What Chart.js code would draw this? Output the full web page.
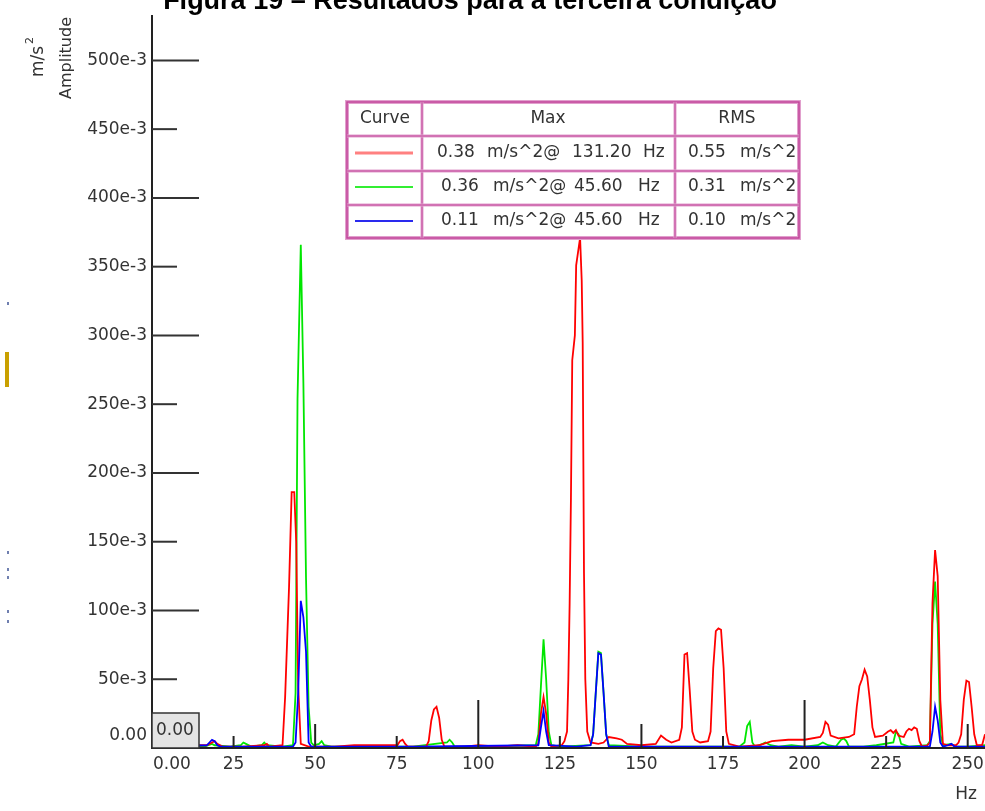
<!DOCTYPE html>
<html>
<head>
<meta charset="utf-8">
<script src="https://cdn.jsdelivr.net/npm/chart.js@4/dist/chart.umd.min.js"></script>
<style>
  body { margin: 0; background: #fff; }
  #wrap { position: relative; width: 985px; height: 811px; }
</style>
</head>
<body>
<div id="wrap"><canvas id="myChart"></canvas></div>
<script>
// spectrum points: [Hz, m/s^2]
const redPts = [
  [0,0.001],[8,0.001],[14,0.002],[16.8,0.002],[18.4,0.004],[19.2,0.005],[20.0,0.003],[21.6,0.001],
  [28,0.001],[34.4,0.002],[35.2,0.003],[36.0,0.001],[40.0,0.002],[40.8,0.037],[42.0,0.117],[42.8,0.186],
  [43.6,0.186],[44.2,0.150],[44.8,0.045],[45.6,0.003],[48,0.001],[56,0.001],[62,0.002],[70,0.002],[75.2,0.002],
  [76.0,0.005],[76.8,0.006],[77.6,0.003],[78.4,0.001],[84.0,0.001],[84.8,0.005],[85.6,0.020],[86.4,0.028],
  [87.2,0.030],[88.0,0.022],[88.8,0.006],[89.6,0.001],[96,0.001],[100,0.002],[106,0.001],[112,0.002],
  [117.6,0.001],[118.4,0.003],[119.2,0.025],[120.0,0.037],[120.8,0.025],[121.6,0.004],[122.4,0.001],
  [125.6,0.002],[126.4,0.005],[127.2,0.012],[127.6,0.050],[128.0,0.105],[128.4,0.182],[128.8,0.282],
  [129.6,0.300],[130.0,0.351],[131.2,0.371],[131.7,0.340],[132.0,0.295],[132.4,0.127],[132.8,0.050],
  [133.4,0.012],[134.4,0.004],[136.8,0.003],
  [138.4,0.004],[140.0,0.008],[142.4,0.007],[144.0,0.006],[145.6,0.003],[150.0,0.002],[154.4,0.003],
  [156.0,0.009],[157.6,0.006],[159.2,0.004],[161.6,0.006],[162.4,0.015],[163.2,0.068],[164.0,0.069],
  [164.8,0.042],[165.6,0.012],[166.4,0.006],[168.0,0.004],[170.4,0.005],[171.2,0.012],[172.0,0.058],
  [172.8,0.085],[173.6,0.087],[174.4,0.086],[175.2,0.058],[176.0,0.012],[176.8,0.003],[180,0.001],
  [186,0.002],[190,0.005],[195,0.006],[200,0.006],[204.8,0.008],[205.6,0.011],[206.4,0.019],[207.2,0.017],
  [208.0,0.009],[210.4,0.007],[213.6,0.008],[215.2,0.010],[216.0,0.030],[216.8,0.045],[217.6,0.050],
  [218.4,0.057],[219.2,0.052],[220.0,0.035],[220.8,0.015],[221.6,0.008],[224.0,0.009],[225.6,0.012],
  [226.4,0.013],[227.2,0.011],[228.0,0.013],[228.8,0.009],[230.4,0.008],[231.2,0.012],[232.0,0.014],
  [232.8,0.013],[233.6,0.015],[234.4,0.014],[235.2,0.005],[236.0,0.001],[237.6,0.002],[238.4,0.004],
  [239.2,0.105],[240.0,0.144],[240.8,0.125],[241.6,0.035],[242.4,0.003],[244.0,0.002],[246.4,0.002],
  [247.2,0.004],[248.0,0.010],[248.8,0.035],[249.6,0.049],[250.4,0.048],[251.2,0.030],[252.0,0.010],
  [252.8,0.002],[254.4,0.002],[255.3,0.010]
];
const greenPts = [
  [0,0.001],[16,0.001],[18.4,0.003],[19.2,0.002],[24,0.001],[27.2,0.002],[28.0,0.004],[28.8,0.003],
  [30.4,0.001],[33.6,0.002],[34.4,0.004],[35.2,0.002],[40,0.001],[43.2,0.002],[44.0,0.040],[44.6,0.254],
  [45.6,0.366],[46.4,0.265],[47.2,0.124],[48.0,0.030],[48.8,0.004],[49.6,0.002],[51.2,0.003],[52.0,0.005],
  [52.8,0.002],[55,0.001],[60,0.001],[80,0.001],[90.4,0.004],[91.2,0.006],[92.0,0.004],[92.8,0.001],
  [100,0.001],[117.6,0.002],[118.4,0.010],[119.2,0.045],[120.0,0.079],[120.8,0.050],[121.6,0.012],
  [122.4,0.002],[125,0.001],[134.4,0.002],[135.2,0.010],[136.0,0.040],[136.8,0.070],[137.6,0.069],
  [138.4,0.040],[139.2,0.010],[140.0,0.002],[150,0.001],[165,0.001],[180,0.001],[181.6,0.004],
  [182.4,0.016],[183.2,0.019],[184.0,0.004],[184.8,0.001],[187.2,0.003],[188.0,0.004],[189.6,0.002],
  [192,0.001],[196,0.002],[200,0.001],[204,0.002],[205.6,0.004],[207.2,0.002],[209.6,0.001],[211.2,0.006],
  [212.0,0.007],[212.8,0.005],[213.6,0.001],[218,0.001],[222,0.002],[227.2,0.004],[228.0,0.012],
  [228.8,0.010],[229.6,0.003],[232,0.001],[237.6,0.002],[238.4,0.005],[239.2,0.090],[240.0,0.121],
  [240.8,0.090],[241.6,0.010],[242.4,0.002],[245,0.003],[246,0.001],[250,0.001],[255.3,0.002]
];
const bluePts = [
  [0,0.001],[16.8,0.002],[17.6,0.004],[18.4,0.006],[19.2,0.005],[20.0,0.002],[21,0.001],[30,0.001],
  [43.2,0.001],[44.0,0.004],[44.8,0.040],[45.6,0.107],[46.4,0.095],[47.2,0.070],[48.0,0.004],[48.8,0.001],
  [80,0.001],[118.4,0.002],[119.2,0.015],[120.0,0.027],[120.8,0.012],[121.6,0.002],[130,0.001],
  [134.4,0.002],[135.2,0.010],[136.0,0.040],[136.8,0.069],[137.6,0.068],[138.4,0.040],[139.2,0.010],
  [140.0,0.001],[150,0.001],[180,0.001],[238.4,0.001],[239.2,0.012],[240.0,0.030],[240.8,0.020],
  [241.6,0.004],[242.4,0.001],[244,0.002],[245,0.003],[246,0.001],[255.3,0.001]
];

const xTickValues = [0, 25, 50, 75, 100, 125, 150, 175, 200, 225, 250];
const yTickValues = [0, 0.05, 0.1, 0.15, 0.2, 0.25, 0.3, 0.35, 0.4, 0.45, 0.5];

// summary table
const curveColors = ['#ff8080', '#33ee33', '#2a2aee'];
const maxValues = ['0.38', '0.36', '0.11'];
const maxFreqs = ['131.20', '45.60', '45.60'];
const rmsValues = ['0.55', '0.31', '0.10'];

const FONT = '17px "DejaVu Sans", sans-serif';
const TXT = '#333';

function toXY(pts) {
  return pts.map(p => ({ x: p[0], y: p[1] }));
}

function yLabel(v) {
  if (v === 0) return '0.00';
  return Math.round(v * 1000) + 'e-3';
}

const decor = {
  id: 'decor',
  afterDatasetsDraw(chart) {
    const ctx = chart.ctx;
    const xs = chart.scales.x, ys = chart.scales.y;
    const a = chart.chartArea;
    const x0 = xs.getPixelForValue(0);
    const y0 = ys.getPixelForValue(0);
    ctx.save();

    // title (cut at the top in the source)
    ctx.fillStyle = '#000';
    ctx.font = 'bold 27px "Liberation Sans", Arial, sans-serif';
    ctx.textAlign = 'center';
    ctx.textBaseline = 'alphabetic';
    ctx.fillText('Figura 19 \u2013 Resultados para a terceira condi\u00e7\u00e3o', 470, 9);

    // axis lines
    ctx.strokeStyle = '#222';
    ctx.lineWidth = 2;
    ctx.beginPath();
    ctx.moveTo(x0, a.top);
    ctx.lineTo(x0, y0);
    ctx.lineTo(a.right, y0);
    ctx.stroke();

    // y ticks and labels
    ctx.font = FONT;
    ctx.fillStyle = TXT;
    ctx.textAlign = 'right';
    ctx.textBaseline = 'middle';
    yTickValues.forEach((v, i) => {
      const y = ys.getPixelForValue(v);
      if (i > 0) {
        const len = i % 2 === 0 ? 47 : 25;
        ctx.strokeStyle = '#333';
        ctx.beginPath();
        ctx.moveTo(x0, y);
        ctx.lineTo(x0 + len, y);
        ctx.stroke();
      }
      ctx.fillText(yLabel(v), 147, i === 0 ? y - 12 : y);
    });

    // x ticks and labels
    xTickValues.forEach((v, i) => {
      const x = xs.getPixelForValue(v);
      if (i > 0) {
        const h = v % 100 === 0 ? 48 : (v % 50 === 0 ? 24 : 12);
        ctx.strokeStyle = '#222';
        ctx.beginPath();
        ctx.moveTo(x, y0);
        ctx.lineTo(x, y0 - h);
        ctx.stroke();
        ctx.textAlign = 'center';
        ctx.fillText(String(v), x, y0 + 17);
      } else {
        ctx.textAlign = 'left';
        ctx.fillText('0.00', x + 1, y0 + 17);
      }
    });
    ctx.textAlign = 'right';
    ctx.fillText('Hz', 977, 795);

    // origin value box
    ctx.fillStyle = '#e4e4e4';
    ctx.fillRect(x0, y0 - 35, 47, 35);
    ctx.strokeStyle = '#333';
    ctx.lineWidth = 1.5;
    ctx.strokeRect(x0, y0 - 35, 47, 35);
    ctx.fillStyle = TXT;
    ctx.textAlign = 'left';
    ctx.fillText('0.00', x0 + 4, y0 - 17);

    // axis titles
    ctx.save();
    ctx.translate(67, 58);
    ctx.rotate(-Math.PI / 2);
    ctx.textAlign = 'center';
    ctx.font = '16px "DejaVu Sans", sans-serif';
    ctx.fillText('Amplitude', 0, 0);
    ctx.restore();
    ctx.save();
    ctx.translate(39, 77);
    ctx.rotate(-Math.PI / 2);
    ctx.textAlign = 'left';
    ctx.font = '17px "DejaVu Sans", sans-serif';
    ctx.fillText('m/s', 0, 0);
    ctx.font = '11px "DejaVu Sans", sans-serif';
    ctx.fillText('2', 33, -9);
    ctx.restore();

    // summary table
    const L = 347, R = 799, T = 102, B = 238;
    const cols = [L, 422, 675, R];
    const rows = [T, 136, 171, 205, B];
    ctx.strokeStyle = 'rgba(225,160,205,1)';
    ctx.lineWidth = 4;
    ctx.strokeRect(L, T, R - L, B - T);
    ctx.strokeStyle = '#c2449a';
    ctx.lineWidth = 1.5;
    ctx.strokeRect(L, T, R - L, B - T);
    [cols[1], cols[2]].forEach(x => {
      ctx.strokeStyle = 'rgba(225,160,205,1)';
      ctx.lineWidth = 3;
      ctx.beginPath(); ctx.moveTo(x, T); ctx.lineTo(x, B); ctx.stroke();
      ctx.strokeStyle = '#c2449a';
      ctx.lineWidth = 1;
      ctx.beginPath(); ctx.moveTo(x, T); ctx.lineTo(x, B); ctx.stroke();
    });
    rows.slice(1, 4).forEach(y => {
      ctx.strokeStyle = 'rgba(225,160,205,1)';
      ctx.lineWidth = 3;
      ctx.beginPath(); ctx.moveTo(L, y); ctx.lineTo(R, y); ctx.stroke();
      ctx.strokeStyle = '#c2449a';
      ctx.lineWidth = 1;
      ctx.beginPath(); ctx.moveTo(L, y); ctx.lineTo(R, y); ctx.stroke();
    });

    ctx.font = FONT;
    ctx.fillStyle = TXT;
    ctx.textAlign = 'center';
    ctx.textBaseline = 'middle';
    ctx.fillText('Curve', 385, 119);
    ctx.fillText('Max', 548, 119);
    ctx.fillText('RMS', 737, 119);

    const rowY = [153, 187, 221];
    rowY.forEach((y, i) => {
      ctx.strokeStyle = curveColors[i];
      ctx.lineWidth = i === 0 ? 3 : 2;
      ctx.beginPath(); ctx.moveTo(355, y); ctx.lineTo(413, y); ctx.stroke();
      ctx.textAlign = 'left';
      const sx = i === 0 ? 437 : 441;
      const mx = i === 0 ? 487 : 493;
      const fx = i === 0 ? 572 : 574;
      const hx = i === 0 ? 643 : 638;
      ctx.fillText(maxValues[i], sx, y);
      ctx.fillText('m/s^2@', mx, y);
      ctx.fillText(maxFreqs[i], fx, y);
      ctx.fillText('Hz', hx, y);
      ctx.fillText(rmsValues[i], 688, y);
      ctx.fillText('m/s^2', 740, y);
    });

    // scan artefacts along the left edge
    ctx.fillStyle = '#c9a000';
    ctx.fillRect(5, 352, 4, 35);
    ctx.fillStyle = '#7080b0';
    [302, 551, 568, 576, 610, 620].forEach(y => ctx.fillRect(7, y, 2, 3));

    ctx.restore();
  }
};

window.onload = function() {
  const ctx = document.getElementById('myChart');
  new Chart(ctx, {
    type: 'line',
    data: {
      datasets: [
        { label: 'blue', data: toXY(bluePts), borderColor: '#0000ff' },
        { label: 'red', data: toXY(redPts), borderColor: '#ff0000' },
        { label: 'green', data: toXY(greenPts), borderColor: '#00e600' }
      ]
    },
    options: {
      responsive: true,
      maintainAspectRatio: false,
      animation: false,
      layout: { padding: { left: 152, top: 15, right: 0, bottom: 63 } },
      elements: {
        point: { radius: 0 },
        line: { tension: 0, borderWidth: 1.8, fill: false }
      },
      plugins: { legend: { display: false }, tooltip: { enabled: false } },
      scales: {
        x: { type: 'linear', min: 0, max: 255.3, display: false },
        y: { type: 'linear', min: 0, max: 0.533, display: false }
      }
    },
    plugins: [decor]
  });
};
</script>
</body>
</html>
